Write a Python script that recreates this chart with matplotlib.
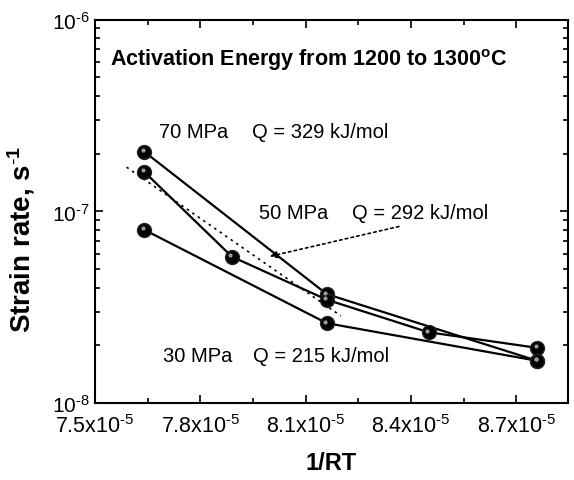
import matplotlib
matplotlib.use('Agg')
import matplotlib.pyplot as plt
import matplotlib.transforms as mtransforms
from matplotlib.ticker import MultipleLocator, FuncFormatter, LogLocator

plt.rcParams['font.family'] = ['Liberation Sans', 'DejaVu Sans']
plt.rcParams['mathtext.fontset'] = 'custom'
plt.rcParams['mathtext.rm'] = 'Liberation Sans'
plt.rcParams['mathtext.it'] = 'Liberation Sans:italic'
plt.rcParams['mathtext.bf'] = 'Liberation Sans:bold'

# 1/RT values (mol/J) and strain rates (1/s)
x70 = [7.64e-5, 8.16e-5, 8.76e-5]
y70 = [2.05e-7, 3.70e-8, 1.66e-8]
x50 = [7.64e-5, 7.89e-5, 8.16e-5, 8.45e-5, 8.76e-5]
y50 = [1.61e-7, 5.80e-8, 3.46e-8, 2.34e-8, 1.94e-8]
x30 = [7.64e-5, 8.16e-5, 8.76e-5]
y30 = [8.02e-8, 2.61e-8, 1.66e-8]

# dotted fit line for 50 MPa
fit_x = [7.59e-5, 8.20e-5]
fit_y = [1.70e-7, 2.85e-8]

xticks = [7.5e-5, 7.8e-5, 8.1e-5, 8.4e-5, 8.7e-5]
yticks = [1e-8, 1e-7, 1e-6]
ytick_labels = [r'$10^{\text{-8}}$', r'$10^{\text{-7}}$', r'$10^{\text{-6}}$']

fig = plt.figure(figsize=(5.74, 4.81), dpi=100)
ax = fig.add_axes([0.1655, 0.160, 0.8235, 0.797])

ax.plot(fit_x, fit_y, color='black', lw=1.2, ls=(0, (1.5, 2.5)))

hl = ax.transData + mtransforms.ScaledTranslation(-1.5 / 100, 1.5 / 100, fig.dpi_scale_trans)
for xs, ys in [(x70, y70), (x50, y50), (x30, y30)]:
    ax.plot(xs, ys, color='black', lw=1.6, marker='o', ms=10,
            mfc='black', mec='#222222', zorder=3)
    ax.plot(xs, ys, ls='none', marker='o', ms=3, mfc='#9a9a9a', mec='none',
            transform=hl, zorder=4)

ax.annotate('', xy=(7.99e-5, 5.78e-8), xytext=(8.373e-5, 8.40e-8),
            arrowprops=dict(arrowstyle='-|>', color='black', lw=1.2,
                            ls=(0, (1.5, 2)), mutation_scale=10))

ax.set_yscale('log')
ax.set_xlim(7.5e-5, 8.846e-5)
ax.set_ylim(1e-8, 1e-6)

ax.set_xticks(xticks)
ax.xaxis.set_minor_locator(MultipleLocator(0.15e-5))
ax.xaxis.set_major_formatter(FuncFormatter(lambda v, p: r'$%.1f\mathrm{x}10^{\text{-5}}$' % (v * 1e5)))
ax.set_yticks(yticks)
ax.set_yticklabels(ytick_labels)
ax.yaxis.set_minor_locator(LogLocator(base=10, subs=range(2, 10), numticks=20))

ax.tick_params(which='both', direction='in', top=True, right=True, width=1.2)
ax.tick_params(axis='x', labelsize=15.5, pad=8)
ax.tick_params(axis='y', labelsize=15, pad=4)
ax.tick_params(which='major', length=6)
ax.tick_params(which='minor', length=3.5)
for s in ax.spines.values():
    s.set_linewidth(1.5)

ax.set_xlabel('1/RT', fontsize=17, fontweight='bold', labelpad=10)
ax.set_ylabel(r'Strain rate, s$^{\text{-}\mathbf{1}}$', fontsize=20, fontweight='bold')
ax.yaxis.set_label_coords(-0.122, 0.43)

ax.text(0.032, 0.897, r'Activation Energy from 1200 to 1300$^{\mathbf{o}}$C',
        transform=ax.transAxes, fontsize=15.5, fontweight='bold', va='center')
ax.text(0.135, 0.708, '70 MPa', transform=ax.transAxes, fontsize=14.5, va='center')
ax.text(0.332, 0.708, 'Q = 329 kJ/mol', transform=ax.transAxes, fontsize=14.5, va='center')
ax.text(0.346, 0.498, '50 MPa', transform=ax.transAxes, fontsize=14.5, va='center')
ax.text(0.543, 0.498, 'Q = 292 kJ/mol', transform=ax.transAxes, fontsize=14.5, va='center')
ax.text(0.144, 0.123, '30 MPa', transform=ax.transAxes, fontsize=14.5, va='center')
ax.text(0.335, 0.123, 'Q = 215 kJ/mol', transform=ax.transAxes, fontsize=14.5, va='center')

fig.savefig('out.png', dpi=100)
